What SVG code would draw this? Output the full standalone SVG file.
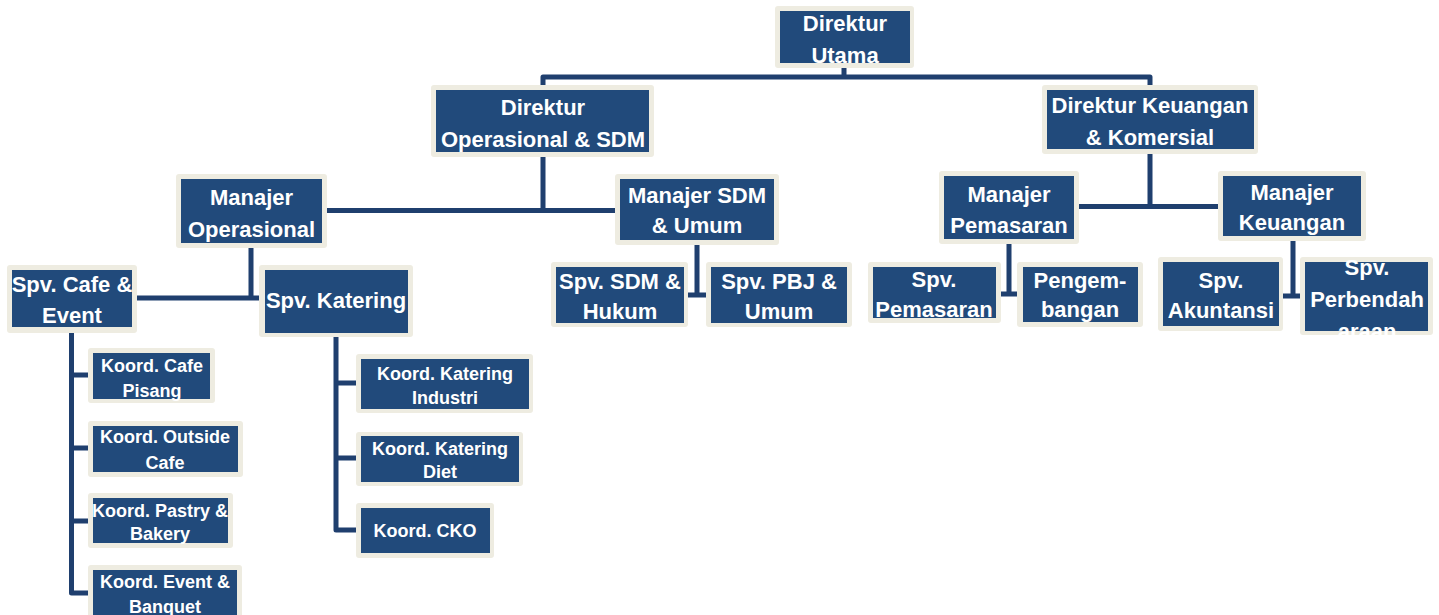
<svg xmlns="http://www.w3.org/2000/svg" width="1439" height="615" viewBox="0 0 1439 615">
<style>
.o{fill:#EEECE1}
.i{fill:#214A7B}
.t{font-family:"Liberation Sans",Arial,sans-serif;font-weight:bold;font-size:22px;fill:#FFFFFF;text-anchor:middle}
.k{font-family:"Liberation Sans",Arial,sans-serif;font-weight:bold;font-size:18px;fill:#FFFFFF;text-anchor:middle}
.c{fill:none;stroke:#1F3F6E;stroke-width:5;stroke-linejoin:round}
</style>
<defs>
<clipPath id="clipPerb"><rect x="1300" y="257" width="133" height="79"/></clipPath>
</defs>
<rect width="1439" height="615" fill="#FFFFFF"/>
<g id="connectors">
<path class="c" d="M543,87 V77 H1150 V87 M844,67 V77"/>
<path class="c" d="M543,156 V210.5 M326,210.5 H616"/>
<path class="c" d="M1150,153 V206.5 M1078,206.5 H1219"/>
<path class="c" d="M251,247 V298 M136,298 H260"/>
<path class="c" d="M71.5,332 V593 H89 M71.5,375 H89 M71.5,448 H89 M71.5,521 H89"/>
<path class="c" d="M336,336 V530 H357 M336,383 H357 M336,458 H357"/>
<path class="c" d="M697,244 V295 M688,295 H707"/>
<path class="c" d="M1009,243 V294 M1000,294 H1018"/>
<path class="c" d="M1293,240 V296 M1282,296 H1301"/>
</g>
<g id="direktur-utama">
<rect class="o" x="775" y="6" width="139" height="62" rx="3"/>
<rect class="i" x="780" y="11" width="130" height="52"/>
<text class="t" x="845" y="31">Direktur</text>
<text class="t" x="845" y="63">Utama</text>
</g>
<g id="direktur-operasional">
<rect class="o" x="431" y="85" width="223" height="72" rx="3"/>
<rect class="i" x="436" y="90" width="213" height="62"/>
<text class="t" x="543" y="115">Direktur</text>
<text class="t" x="543" y="147">Operasional &amp; SDM</text>
</g>
<g id="direktur-keuangan">
<rect class="o" x="1042" y="85" width="216" height="69" rx="3"/>
<rect class="i" x="1047" y="90" width="207" height="59"/>
<text class="t" x="1150" y="113">Direktur Keuangan</text>
<text class="t" x="1150" y="145">&amp; Komersial</text>
</g>
<g id="manajer-operasional">
<rect class="o" x="176" y="174" width="151" height="74" rx="3"/>
<rect class="i" x="181" y="179" width="141" height="64"/>
<text class="t" x="251.5" y="205">Manajer</text>
<text class="t" x="251.5" y="237">Operasional</text>
</g>
<g id="manajer-sdm">
<rect class="o" x="615" y="174" width="164" height="71" rx="3"/>
<rect class="i" x="620" y="179" width="154" height="61"/>
<text class="t" x="697" y="203">Manajer SDM</text>
<text class="t" x="697" y="233">&amp; Umum</text>
</g>
<g id="manajer-pemasaran">
<rect class="o" x="939" y="171" width="140" height="73" rx="3"/>
<rect class="i" x="944" y="176" width="130" height="63"/>
<text class="t" x="1009" y="202">Manajer</text>
<text class="t" x="1009" y="233">Pemasaran</text>
</g>
<g id="manajer-keuangan">
<rect class="o" x="1218" y="171" width="148" height="70" rx="3"/>
<rect class="i" x="1223" y="176" width="138" height="60"/>
<text class="t" x="1292" y="200">Manajer</text>
<text class="t" x="1292" y="230">Keuangan</text>
</g>
<g id="spv-cafe-event">
<rect class="o" x="7" y="265" width="130" height="68" rx="3"/>
<rect class="i" x="12" y="270" width="120" height="57"/>
<text class="t" x="72" y="292">Spv. Cafe &amp;</text>
<text class="t" x="72" y="323">Event</text>
</g>
<g id="spv-katering">
<rect class="o" x="259" y="265" width="154" height="72" rx="3"/>
<rect class="i" x="265" y="270" width="143" height="63"/>
<text class="t" x="336" y="308">Spv. Katering</text>
</g>
<g id="spv-sdm-hukum">
<rect class="o" x="551" y="262" width="137" height="65" rx="3"/>
<rect class="i" x="556" y="267" width="128" height="56"/>
<text class="t" x="620" y="289">Spv. SDM &amp;</text>
<text class="t" x="620" y="319">Hukum</text>
</g>
<g id="spv-pbj-umum">
<rect class="o" x="706" y="262" width="146" height="65" rx="3"/>
<rect class="i" x="711" y="267" width="136" height="56"/>
<text class="t" x="779" y="289">Spv. PBJ &amp;</text>
<text class="t" x="779" y="319">Umum</text>
</g>
<g id="spv-pemasaran">
<rect class="o" x="868" y="262" width="133" height="61" rx="3"/>
<rect class="i" x="873" y="267" width="123" height="51"/>
<text class="t" x="934" y="287">Spv.</text>
<text class="t" x="934" y="317">Pemasaran</text>
</g>
<g id="pengembangan">
<rect class="o" x="1017" y="262" width="126" height="65" rx="3"/>
<rect class="i" x="1023" y="267" width="115" height="55"/>
<text class="t" x="1080" y="288">Pengem-</text>
<text class="t" x="1080" y="317">bangan</text>
</g>
<g id="spv-akuntansi">
<rect class="o" x="1158" y="257" width="125" height="74" rx="3"/>
<rect class="i" x="1163" y="262" width="116" height="64"/>
<text class="t" x="1221" y="288">Spv.</text>
<text class="t" x="1221" y="318">Akuntansi</text>
</g>
<g id="spv-perbendaharaan">
<rect class="o" x="1300" y="257" width="133" height="78" rx="3"/>
<rect class="i" x="1305" y="262" width="123" height="69"/>
<g clip-path="url(#clipPerb)">
<text class="t" x="1367" y="275">Spv.</text>
<text class="t" x="1367" y="307">Perbendah</text>
<text class="t" x="1367" y="339">araan</text>
</g>
</g>
<g id="koord-cafe-pisang">
<rect class="o" x="88" y="348" width="127" height="55" rx="3"/>
<rect class="i" x="93" y="353" width="117" height="46"/>
<text class="k" x="152" y="372">Koord. Cafe</text>
<text class="k" x="152" y="397">Pisang</text>
</g>
<g id="koord-outside-cafe">
<rect class="o" x="88" y="421" width="155" height="56" rx="3"/>
<rect class="i" x="93" y="426" width="145" height="46"/>
<text class="k" x="165" y="443">Koord. Outside</text>
<text class="k" x="165" y="469">Cafe</text>
</g>
<g id="koord-pastry-bakery">
<rect class="o" x="88" y="493" width="145" height="55" rx="3"/>
<rect class="i" x="93" y="498" width="135" height="45"/>
<text class="k" x="160" y="517">Koord. Pastry &amp;</text>
<text class="k" x="160" y="540">Bakery</text>
</g>
<g id="koord-event-banquet">
<rect class="o" x="88" y="565" width="154" height="60" rx="3"/>
<rect class="i" x="93" y="570" width="144" height="50"/>
<text class="k" x="165" y="588">Koord. Event &amp;</text>
<text class="k" x="165" y="613">Banquet</text>
</g>
<g id="koord-katering-industri">
<rect class="o" x="356" y="354" width="177" height="59" rx="3"/>
<rect class="i" x="361" y="359" width="168" height="50"/>
<text class="k" x="445" y="380">Koord. Katering</text>
<text class="k" x="445" y="404">Industri</text>
</g>
<g id="koord-katering-diet">
<rect class="o" x="356" y="432" width="167" height="54" rx="3"/>
<rect class="i" x="361" y="436" width="158" height="46"/>
<text class="k" x="440" y="455">Koord. Katering</text>
<text class="k" x="440" y="478">Diet</text>
</g>
<g id="koord-cko">
<rect class="o" x="356" y="503" width="138" height="55" rx="3"/>
<rect class="i" x="361" y="508" width="129" height="45"/>
<text class="k" x="425" y="537">Koord. CKO</text>
</g>
</svg>
